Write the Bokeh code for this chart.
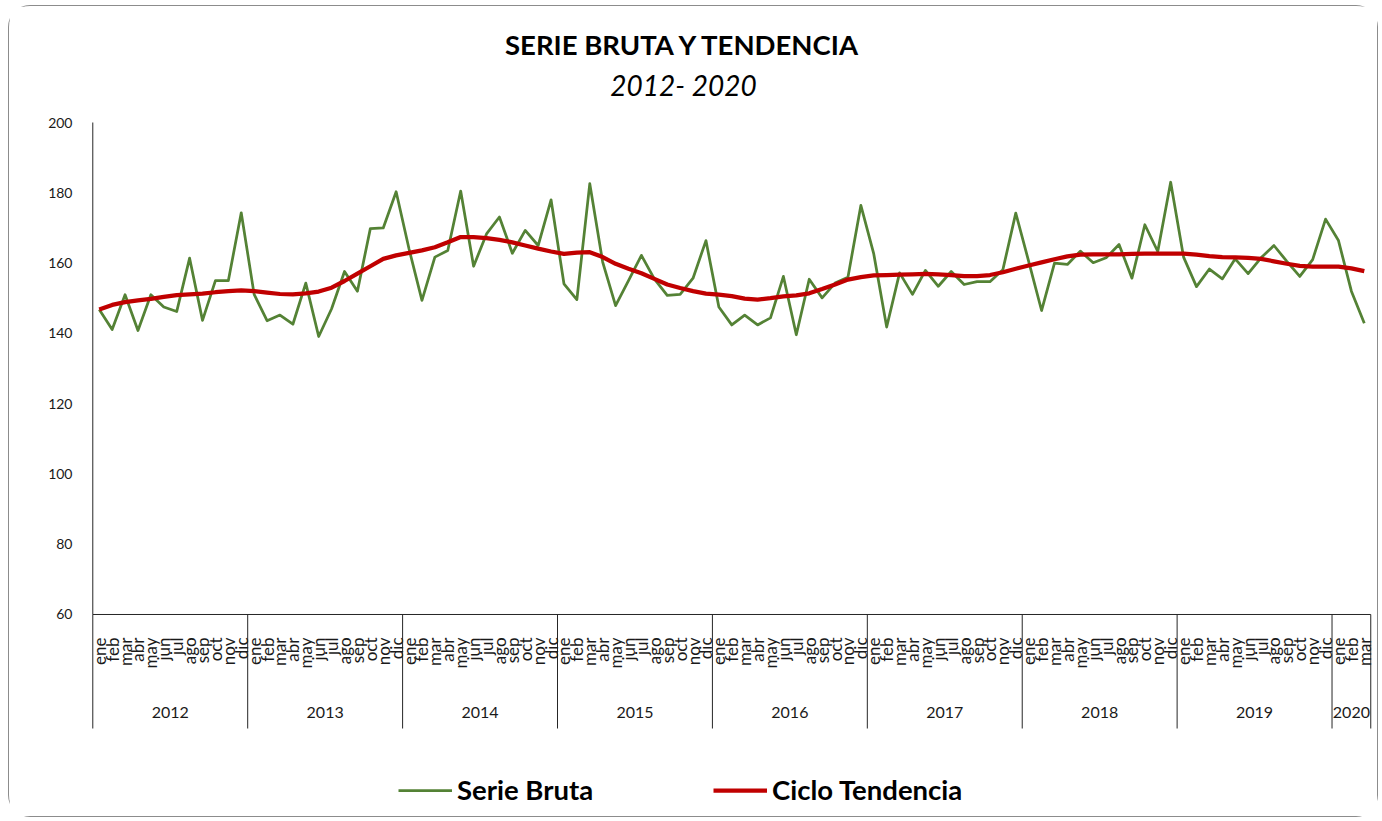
import math
from bokeh.plotting import figure
from bokeh.models import Range1d, FixedTicker, Legend, LegendItem
from bokeh.core.properties import value
from bokeh.embed import file_html
from bokeh.resources import INLINE

# ---------------- data ----------------
months = ["ene", "feb", "mar", "abr", "may", "jun", "jul", "ago", "sep", "oct", "nov", "dic"]
years = ["2012", "2013", "2014", "2015", "2016", "2017", "2018", "2019", "2020"]
months_per_year = [12, 12, 12, 12, 12, 12, 12, 12, 3]

serie_bruta = [
    146.8, 141.1, 151.0, 140.8, 151.0, 147.5, 146.2, 161.4, 143.7, 155.0, 155.0, 174.3,  # 2012
    151.1, 143.6, 145.2, 142.6, 154.3, 139.1, 147.0, 157.6, 152.0, 169.8, 170.0, 180.3,  # 2013
    164.0, 149.4, 161.7, 163.6, 180.5, 159.1, 168.3, 173.1, 162.8, 169.3, 165.0, 178.0,  # 2014
    154.1, 149.6, 182.6, 160.3, 147.9, 155.0, 162.2, 155.5, 150.8, 151.1, 155.7, 166.4,  # 2015
    147.5, 142.4, 145.2, 142.4, 144.4, 156.2, 139.6, 155.4, 150.1, 154.3, 156.0, 176.4,  # 2016
    162.6, 141.8, 157.2, 151.1, 157.9, 153.4, 157.6, 153.9, 154.7, 154.7, 158.1, 174.2,  # 2017
    160.5, 146.5, 160.0, 159.6, 163.4, 160.1, 161.5, 165.3, 155.7, 170.9, 163.3, 183.0,  # 2018
    161.7, 153.3, 158.3, 155.5, 161.2, 157.0, 161.5, 165.0, 160.5, 156.2, 161.0, 172.5,  # 2019
    166.4, 152.0, 142.9,                                                                  # 2020
]

ciclo_tendencia = [
    146.8, 148.1, 148.9, 149.4, 149.8, 150.4, 150.9, 151.1, 151.3, 151.7, 152.0, 152.2,  # 2012
    152.0, 151.6, 151.2, 151.1, 151.4, 151.9, 153.0, 154.9, 157.0, 159.1, 161.2, 162.2,  # 2013
    162.9, 163.6, 164.5, 165.9, 167.4, 167.4, 167.1, 166.6, 165.9, 165.0, 164.1, 163.3,  # 2014
    162.6, 163.0, 163.1, 161.7, 159.8, 158.4, 157.1, 155.5, 153.9, 152.9, 152.0, 151.3,  # 2015
    151.0, 150.6, 149.9, 149.6, 150.0, 150.5, 150.8, 151.4, 152.6, 153.9, 155.3, 156.0,  # 2016
    156.5, 156.6, 156.7, 156.8, 156.9, 156.8, 156.6, 156.3, 156.3, 156.6, 157.4, 158.4,  # 2017
    159.3, 160.2, 161.1, 161.9, 162.4, 162.5, 162.5, 162.5, 162.6, 162.7, 162.7, 162.7,  # 2018
    162.7, 162.4, 162.0, 161.7, 161.6, 161.5, 161.2, 160.5, 159.8, 159.2, 159.0, 159.0,  # 2019
    159.0, 158.5, 157.7,                                                                  # 2020
]

y_ticks = [60, 80, 100, 120, 140, 160, 180, 200]

# ---------------- derived ----------------
month_labels = []
for n in months_per_year:
    month_labels += months[:n]
n_pts = len(serie_bruta)
xs = [i + 0.5 for i in range(n_pts)]

bounds = [0]
for n in months_per_year:
    bounds.append(bounds[-1] + n)
year_centers = [(bounds[k] + bounds[k + 1]) / 2 for k in range(len(years))]

Y_MIN, Y_MAX = y_ticks[0], y_ticks[-1]
SEP_BOTTOM = 27.56
MONTH_Y = 53.46
YEAR_Y = 32.1
FONT = "Lato"
TXT = "#1a1a1a"
AX = "#262626"

W, H = 1370, 812
p = figure(
    width=W, height=H, output_backend="svg", toolbar_location=None, title=None,
    x_range=Range1d(-0.1, n_pts + 0.6), y_range=Range1d(1.95, 233.01),
    x_axis_location=None, min_border_left=82, min_border_right=1,
    min_border_top=0, min_border_bottom=0,
)
p.grid.visible = False
p.outline_line_color = None
p.background_fill_color = "white"
p.border_fill_color = "white"
p.styles = {"border": "1px solid #8c8c8c", "border-radius": "22px",
            "margin-left": "8px", "margin-top": "5px"}

ya = p.yaxis[0]
ya.ticker = FixedTicker(ticks=y_ticks)
ya.axis_line_color = None
ya.major_tick_line_color = None
ya.minor_tick_line_color = None
ya.major_tick_out = 0
ya.major_label_standoff = 19
ya.major_label_text_font = FONT
ya.major_label_text_font_size = "14px"
ya.major_label_text_color = TXT

# axis lines and category separators
p.segment(x0=[0], y0=[Y_MIN], x1=[0], y1=[Y_MAX], line_color=AX, line_width=1)
p.segment(x0=[0], y0=[Y_MIN], x1=[n_pts], y1=[Y_MIN], line_color=AX, line_width=1)
p.segment(x0=bounds, y0=[SEP_BOTTOM] * len(bounds), x1=bounds, y1=[Y_MIN] * len(bounds),
          line_color=AX, line_width=1)

# month and year labels
p.text(x=xs, y=[MONTH_Y] * n_pts, text=month_labels, angle=math.pi / 2,
       text_align="right", text_baseline="middle", text_font=value(FONT),
       text_font_size="17px", text_color=TXT)
p.text(x=year_centers, y=[YEAR_Y] * len(years), text=years, text_align="center",
       text_baseline="middle", text_font=value(FONT), text_font_size="16px", text_color=TXT)

# titles
p.text(x=[45.76], y=[222.2], text=["SERIE BRUTA Y TENDENCIA"], text_align="center",
       text_baseline="middle", text_font=value(FONT), text_font_style="bold",
       text_font_size="27.5px", text_color="#000000")
p.text(x=[45.76], y=[210.6], text=["2012- 2020"], text_align="center",
       text_baseline="middle", text_font=value(FONT), text_font_style="italic",
       text_font_size="28px", text_color="#000000")

# series
r1 = p.line(xs, serie_bruta, line_color="#548235", line_width=2.75, line_join="round")
r2 = p.line(xs, ciclo_tendencia, line_color="#C00000", line_width=4.25, line_join="round")


def make_legend(label, rend, loc):
    lg = Legend(items=[LegendItem(label=label, renderers=[rend])], location=loc,
                orientation="horizontal", glyph_width=54, glyph_height=20,
                label_standoff=5, padding=0, margin=0, border_line_color=None,
                background_fill_alpha=0, label_text_font=FONT,
                label_text_font_style="bold", label_text_font_size="27.5px",
                label_text_color="#000000")
    return lg


p.add_layout(make_legend("Serie Bruta", r1, (307, 12)))
p.add_layout(make_legend("Ciclo Tendencia", r2, (622, 12)))

open("out.html", "w").write(file_html(p, INLINE))
